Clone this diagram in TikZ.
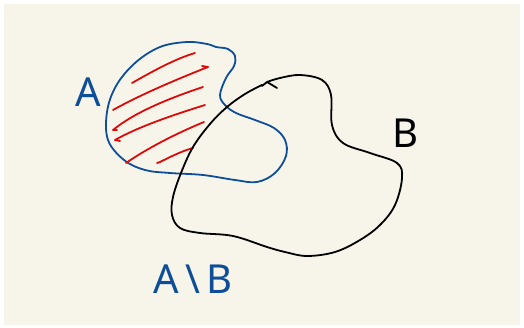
\documentclass[tikz,border=0pt]{standalone}
\usepackage{fontspec}
\setsansfont{Noto Sans}
\definecolor{paper}{RGB}{247,245,234}
\definecolor{inkblue}{RGB}{14,78,152}
\definecolor{inkred}{RGB}{220,10,10}
\tikzset{
  pen/.style={line width=1.8pt, line cap=round, line join=round},
  hatch/.style={pen, inkred},
  lbl/.style={font=\sffamily\fontsize{40}{44}\selectfont, inner sep=0pt}
}
\begin{document}
\begin{tikzpicture}[x=1pt,y=-1pt]
\useasboundingbox (0,0) rectangle (524,328);
\fill[white] (0,0) rectangle (524,328);
\fill[paper] (4,4) rectangle (520,325);
% set A
\draw[pen, inkblue] plot[smooth cycle, tension=0.6] coordinates {
 (207,44) (187,42) (160,47) (135,63) (116,86) (107,112) (108,140) (124,160)
 (145,170) (170,173) (203,175) (235,180) (257,182) (275,173) (286,156)
 (285,140) (274,128) (255,120) (236,113) (225,105) (220,95) (226,78)
 (234,66) (235,56) (228,49) (216,47)};
% hatching
\draw[hatch] (132,83) .. controls (155,70) and (175,59) .. (195,53);
\draw[hatch] (113,110) .. controls (140,95) and (175,80) .. (208,67) -- (202,66);
\draw[hatch] (203,87) .. controls (170,98) and (135,112) .. (113,130) -- (117,130);
\draw[hatch] (205,105) .. controls (170,116) and (138,127) .. (115,140) -- (120,141);
\draw[hatch] (204,122) .. controls (175,134) and (148,148) .. (126,163);
\draw[hatch] (157,163) -- (160,162) .. controls (170,157) and (182,151) .. (193,148);
% set B
\draw[pen, black] plot[smooth, tension=0.6] coordinates {
 (267,82) (280,78) (300,75) (322,80) (331,95) (332,125) (343,143)
 (370,153) (397,163) (402,178) (395,205) (380,225) (360,240) (335,252)
 (307,256) (285,252) (267,247) (233,236) (200,233) (180,228) (172,215)
 (173,197) (181,173) (193,147) (210,124) (227,107) (245,94) (262,85)};
\draw[pen, black] (262,86) -- (267,82) -- (277,88);
% labels
\node[lbl, text=inkblue] (a) at (88,92) {A};
\node[lbl, text=black] (b) at (405,133) {B};
\node[lbl, text=inkblue] (amb) at (193,279) {A\,\textbackslash\,B};
\end{tikzpicture}
\end{document}
